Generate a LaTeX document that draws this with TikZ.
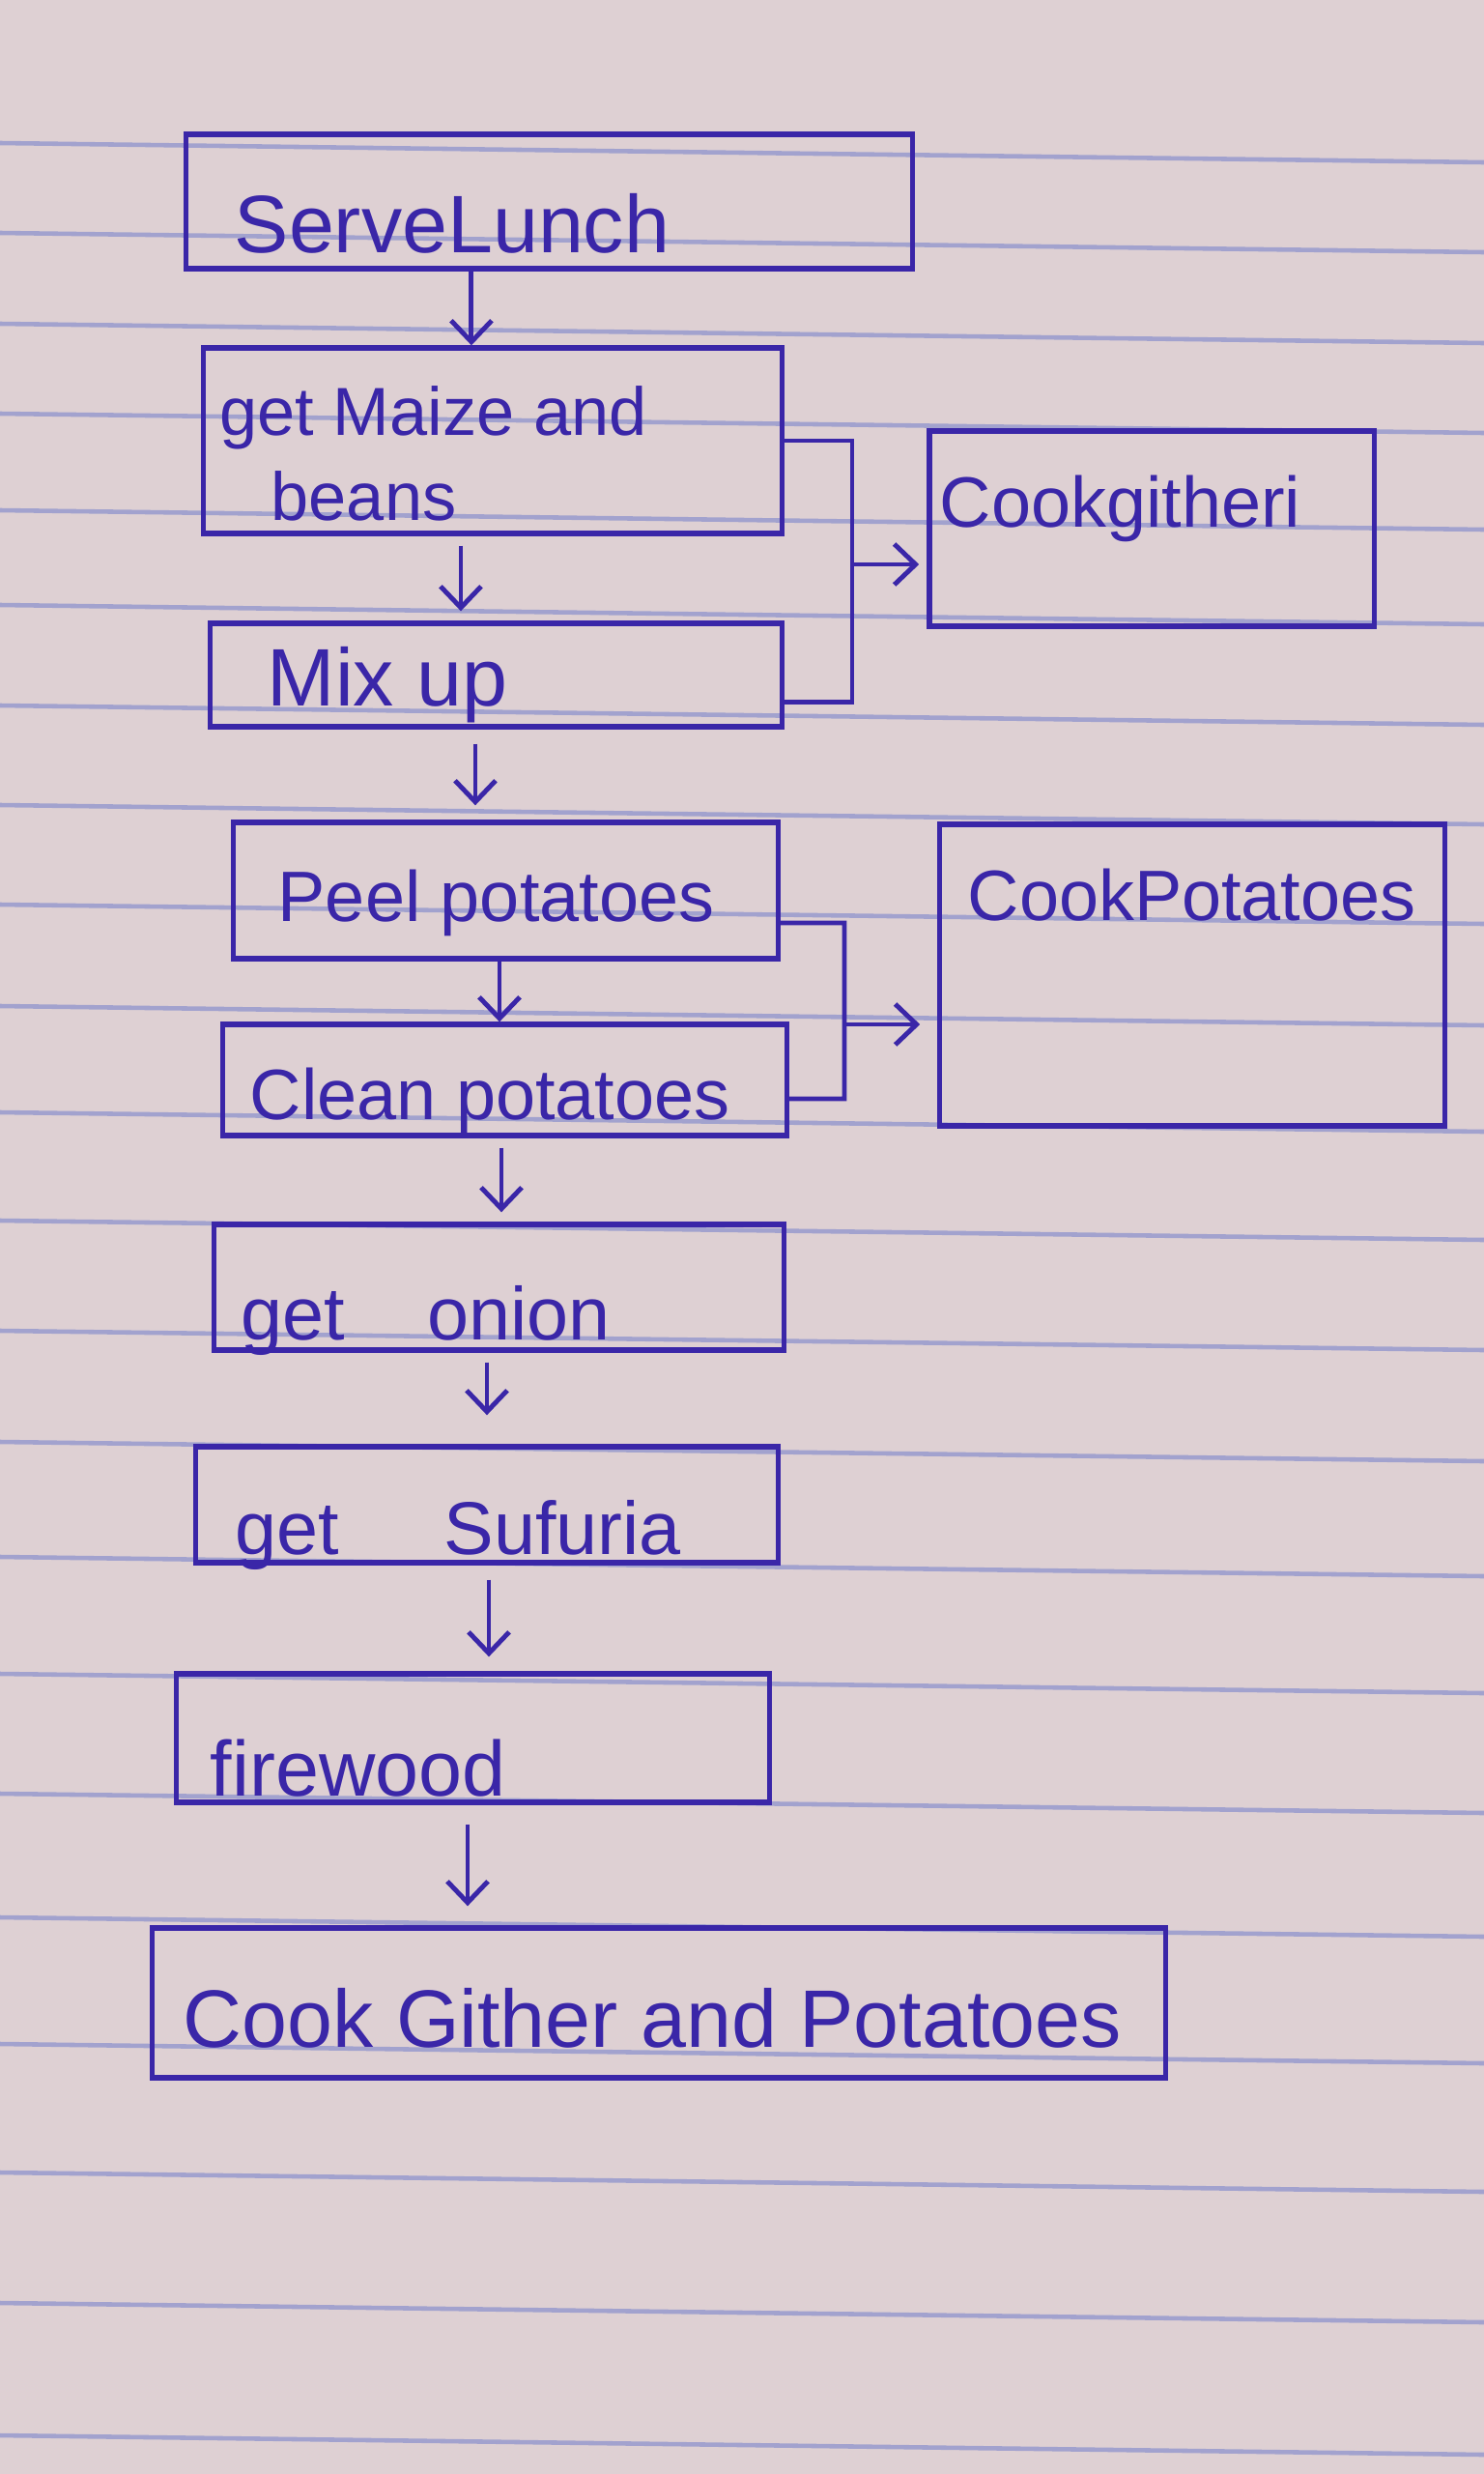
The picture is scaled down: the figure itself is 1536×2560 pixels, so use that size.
\documentclass[tikz,border=0pt]{standalone}
\usepackage{fontspec}
\setmainfont{Liberation Sans}
\usetikzlibrary{arrows.meta}

\definecolor{paper}{RGB}{222,208,211}
\definecolor{ink}{RGB}{58,38,168}
\definecolor{rulecol}{RGB}{162,162,206}

\tikzset{
  box/.style={draw=ink, line width=1.5pt, rectangle, inner sep=0pt},
  lbl/.style={text=ink, anchor=base west, inner sep=0pt, font=\fontsize{21}{25}\selectfont},
  arr/.style={draw=ink, line width=1.4pt, -{Straight Barb[length=0.22cm, width=0.42cm]}},
  link/.style={draw=ink, line width=1.4pt},
  ruled/.style={draw=rulecol, line width=1.3pt}
}

\begin{document}
\begin{tikzpicture}[x=0.01cm, y=-0.01cm]

        \fill[paper] (0,0) rectangle (1536,2560);
        \useasboundingbox (0,0) rectangle (1536,2560);

        \foreach \ry in {158,251,345,438,538,636,740,843,946,1051,1161,1273,1387,1502,1621,1742,1866,1994,2125,2258,2393,2530}
            \draw[ruled] (0,\ry-10) -- (1536,\ry+10);

        % main column
        \node[box, minimum width=7.51cm, minimum height=1.39cm] (serve) at (568.5,208.5) {};
        \node[lbl, font=\fontsize{24}{28}\selectfont] at (242,261) {ServeLunch};

        \node[box, minimum width=5.98cm, minimum height=1.92cm] (maize) at (510,456) {};
        \node[lbl, font=\fontsize{20}{24}\selectfont] at (227,450) {get Maize and};
        \node[lbl, font=\fontsize{20}{24}\selectfont] at (280,538) {beans};

        \node[box, minimum width=5.91cm, minimum height=1.07cm] (mix) at (513.5,698.5) {};
        \node[lbl, font=\fontsize{24}{28}\selectfont] at (276,730) {Mix up};

        \node[box, minimum width=5.63cm, minimum height=1.41cm] (peel) at (523.5,921.5) {};
        \node[lbl] at (287,953) {Peel potatoes};

        \node[box, minimum width=5.83cm, minimum height=1.15cm] (clean) at (522.5,1117.5) {};
        \node[lbl] at (258,1158) {Clean potatoes};

        \node[box, minimum width=5.89cm, minimum height=1.30cm] (onion) at (516.5,1332) {};
        \node[lbl, font=\fontsize{22}{26}\selectfont] at (249,1386) {get\hspace{1.1em}onion};

        \node[box, minimum width=6.02cm, minimum height=1.20cm] (sufuria) at (504,1557) {};
        \node[lbl, font=\fontsize{22}{26}\selectfont] at (243,1608) {get\hspace{1.4em}Sufuria};

        \node[box, minimum width=6.13cm, minimum height=1.33cm] (fire) at (489.5,1798.5) {};
        \node[lbl, font=\fontsize{23}{27}\selectfont] at (217,1858) {firewood};

        \node[box, minimum width=10.48cm, minimum height=1.55cm] (final) at (682,2072.5) {};
        \node[lbl, font=\fontsize{24}{28}\selectfont] at (189,2118) {Cook Gither and Potatoes};

        % side boxes
        \node[box, minimum width=4.60cm, minimum height=2.02cm] (gith) at (1192,547) {};
        \node[lbl] at (972,545) {Cookgitheri};

        \node[box, minimum width=5.22cm, minimum height=3.12cm] (cookpot) at (1234,1009) {};
        \node[lbl] at (1001,952) {CookPotatoes};

        % down arrows
        \draw[arr] ([xshift=-0.805cm]serve.south) -- ([xshift=-0.805cm]serve.south |- maize.north);
        \draw[arr, shorten <=0.1cm, shorten >=0.1cm] ([xshift=-0.33cm]maize.south) -- ([xshift=-0.33cm]maize.south |- mix.north);
        \draw[arr, shorten <=0.15cm, shorten >=0.15cm] ([xshift=-0.215cm]mix.south) -- ([xshift=-0.215cm]mix.south |- peel.north);
        \draw[arr] ([xshift=-0.065cm]peel.south) -- ([xshift=-0.065cm]peel.south |- clean.north);
        \draw[arr, shorten <=0.1cm, shorten >=0.1cm] ([xshift=-0.035cm]clean.south) -- ([xshift=-0.035cm]clean.south |- onion.north);
        \draw[arr, shorten <=0.1cm, shorten >=0.3cm] ([xshift=-0.125cm]onion.south) -- ([xshift=-0.125cm]onion.south |- sufuria.north);
        \draw[arr, shorten <=0.15cm, shorten >=0.15cm] ([xshift=0.02cm]sufuria.south) -- ([xshift=0.02cm]sufuria.south |- fire.north);
        \draw[arr, shorten <=0.2cm, shorten >=0.2cm] ([xshift=-0.055cm]fire.south) -- ([xshift=-0.055cm]fire.south |- final.north);

        % brackets to the side boxes
        \coordinate (ja) at (882,456);
        \coordinate (jam) at (882,584);
        \draw[link] (maize.east) -- (ja) |- ([yshift=-0.28cm]mix.east);
        \draw[arr, shorten >=0.08cm] (jam) -- (jam -| gith.west);

        \coordinate (jb) at (874,955);
        \coordinate (jbm) at (874,1060);
        \draw[link] ([yshift=-0.335cm]peel.east) -- (jb) |- ([yshift=-0.195cm]clean.east);
        \draw[arr, shorten >=0.18cm] (jbm) -- (jbm -| cookpot.west);

\end{tikzpicture}
\end{document}
